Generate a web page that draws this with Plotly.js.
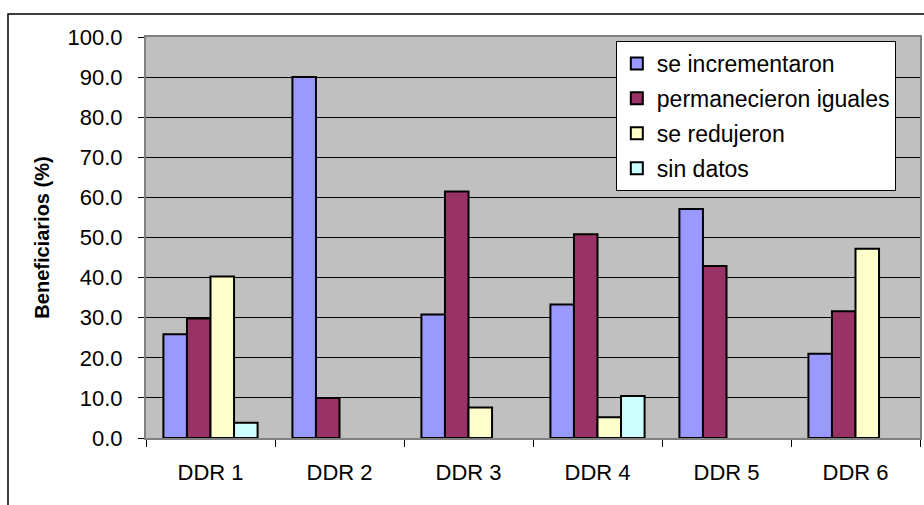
<!DOCTYPE html>
<html>
<head>
<meta charset="utf-8">
<script src="https://cdn.plot.ly/plotly-3.0.1.min.js"></script>
<style>
  html, body { margin: 0; padding: 0; background: #ffffff; }
  #chart { width: 924px; height: 505px; }
</style>
</head>
<body>
<div id="chart"></div>
<script>
const categories = ["DDR 1", "DDR 2", "DDR 3", "DDR 4", "DDR 5", "DDR 6"];
const seIncrementaron = [25.9, 90.0, 30.8, 33.3, 57.1, 21.0];
const permanecieronIguales = [29.8, 10.0, 61.5, 50.8, 42.9, 31.6];
const seRedujeron = [40.3, null, 7.6, 5.2, null, 47.2];
const sinDatos = [3.8, null, null, 10.5, null, null];
const seriesNames = ["se incrementaron", "permanecieron iguales", "se redujeron", "sin datos"];
const seriesColors = ["#9999FF", "#993366", "#FFFFCC", "#CCFFFF"];
const yTickValues = [0, 10, 20, 30, 40, 50, 60, 70, 80, 90, 100];
const titleText = "Ingresos de productores beneficiarios tras el último ciclo por DDR";
const yTitleText = "Beneficiarios (%)";

const FONT = "Liberation Sans, Arial, sans-serif";
const seriesValues = [seIncrementaron, permanecieronIguales, seRedujeron, sinDatos];

const traces = seriesValues.map((vals, i) => ({
  type: "bar",
  name: seriesNames[i],
  x: categories,
  y: vals,
  legendgroup: "g" + i,
  marker: { color: seriesColors[i], line: { color: "#000000", width: 2 } },
  hoverinfo: "x+y+name"
}));

const layout = {
  width: 924,
  height: 505,
  margin: { l: 146, r: 4, t: 37, b: 67 },
  paper_bgcolor: "#ffffff",
  plot_bgcolor: "#C0C0C0",
  font: { family: FONT, size: 22, color: "#000000" },
  barmode: "group",
  bargap: 0.27,
  bargroupgap: 0,
  showlegend: true,
  legend: {
    x: 0.607, y: 0.99, xanchor: "left", yanchor: "top",
    bgcolor: "#ffffff", bordercolor: "#000000", borderwidth: 1,
    font: { family: FONT, size: 23, color: "#000000" },
    traceorder: "grouped", tracegroupgap: 2
  },
  xaxis: {
    type: "category",
    showgrid: false,
    showline: true, linecolor: "#808080", linewidth: 2, mirror: true,
    ticks: "outside", ticklen: 7, tickcolor: "#000000", tickwidth: 1,
    tickson: "boundaries",
    ticklabelstandoff: 14,
    tickfont: { family: FONT, size: 22, color: "#000000" },
    fixedrange: true
  },
  yaxis: {
    range: [0, 100],
    tickvals: yTickValues,
    tickformat: ".1f",
    showgrid: true, gridcolor: "#000000", gridwidth: 1,
    zeroline: false,
    showline: true, linecolor: "#808080", linewidth: 2, mirror: true,
    ticks: "outside", ticklen: 6, tickcolor: "#000000", tickwidth: 1,
    ticklabelstandoff: 11,
    tickfont: { family: FONT, size: 22, color: "#000000" },
    title: { text: yTitleText, font: { family: FONT, size: 20, color: "#000000", weight: "bold" }, standoff: 13 },
    fixedrange: true
  },
  shapes: [{
    type: "rect", xref: "paper", yref: "paper",
    x0: -0.1783, x1: 1.2, y0: -0.4, y1: 1.0574,
    line: { color: "#000000", width: 1.5 },
    fillcolor: "rgba(0,0,0,0)", layer: "below"
  }],
  annotations: [{
    text: "<b>" + titleText + "</b>",
    xref: "paper", yref: "paper",
    x: 0.408, y: 1.0865, xanchor: "center", yanchor: "bottom",
    showarrow: false,
    font: { family: FONT, size: 24, color: "#000000" }
  }]
};

Plotly.newPlot("chart", traces, layout, { displayModeBar: false, staticPlot: true });
</script>
</body>
</html>
